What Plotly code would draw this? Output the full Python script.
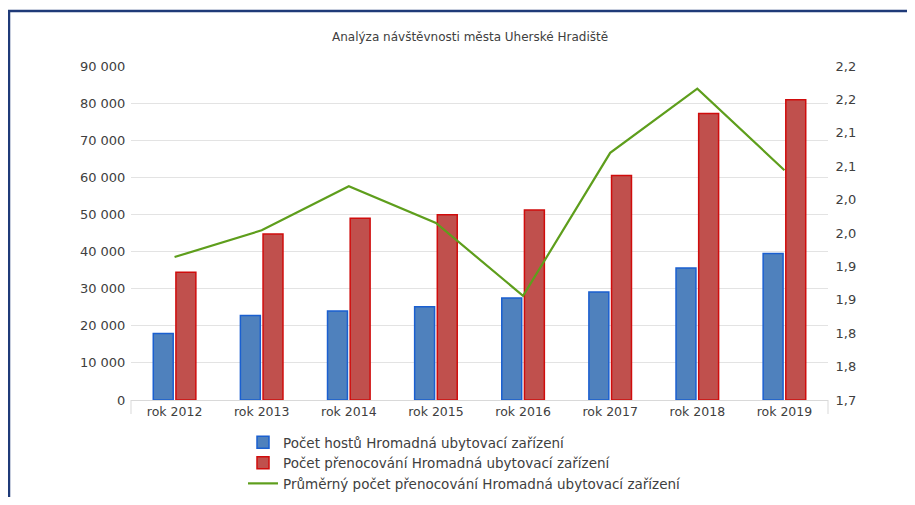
import plotly.graph_objects as go

categories = ["rok 2012", "rok 2013", "rok 2014", "rok 2015", "rok 2016", "rok 2017", "rok 2018", "rok 2019"]
hoste = [17900, 22800, 24000, 25100, 27500, 29100, 35600, 39500]
prenocovani = [34400, 44700, 49000, 49900, 51200, 60500, 77200, 80900]
prumer = [1.914, 1.954, 2.020, 1.965, 1.856, 2.070, 2.166, 2.044]

left_ticks = [0, 10000, 20000, 30000, 40000, 50000, 60000, 70000, 80000, 90000]
right_tickvals = [1.70, 1.75, 1.80, 1.85, 1.90, 1.95, 2.00, 2.05, 2.10, 2.15, 2.20]
right_ticktext = ["1,7", "1,8", "1,8", "1,9", "1,9", "2,0", "2,0", "2,1", "2,1", "2,2", "2,2"]

title_text = "Analýza návštěvnosti města Uherské Hradiště"
name_hoste = "Počet hostů Hromadná ubytovací zařízení"
name_pren = "Počet přenocování Hromadná ubytovací zařízení"
name_prum = "Průměrný počet přenocování Hromadná ubytovací zařízení"

FONT = "DejaVu Sans"

fig = go.Figure()
fig.add_trace(go.Bar(x=categories, y=hoste, name=name_hoste,
                     marker=dict(color="#4F81BD", line=dict(color="#1A5FD0", width=1.5))))
fig.add_trace(go.Bar(x=categories, y=prenocovani, name=name_pren,
                     marker=dict(color="#C0504D", line=dict(color="#D00C0C", width=1.5))))
fig.add_trace(go.Scatter(x=categories, y=prumer, name=name_prum, yaxis="y2", mode="lines",
                         line=dict(color="#5E9E1C", width=2.2)))

# page body has an 8px margin on every side; work in absolute screen pixels
OFF = 8
W, H = 915 - OFF, 505 - 2 * OFF
L, R, T = 131 - OFF, 87, 66 - OFF
B = H - (400 - OFF)
pw, ph = W - L - R, H - T - B

def px(x):
    return (x - OFF - L) / pw

def py(y):
    return (400 - y) / ph

fig.update_layout(
    width=W, height=H,
    margin=dict(l=L, r=R, t=T, b=B, autoexpand=False),
    paper_bgcolor="white", plot_bgcolor="white",
    separators=", ",
    font=dict(family=FONT, size=13, color="#595959"),
    barmode="group", bargap=0.48, bargroupgap=0.12,
    showlegend=True,
    legend=dict(x=px(243), y=py(427), xanchor="left", yanchor="top",
                font=dict(family=FONT, size=13.5, color="#404040"),
                tracegroupgap=0, itemwidth=30, traceorder="normal",
                bgcolor="rgba(0,0,0,0)"),
    xaxis=dict(showgrid=False, showline=True, linecolor="#D9D9D9", linewidth=1,
               ticks="", tickfont=dict(size=12.5, color="#404040"), fixedrange=True),
    yaxis=dict(range=[0, 90000], tickvals=left_ticks, tickformat=",d",
               showgrid=True, gridcolor="#E3E3E3", gridwidth=1, zeroline=False,
               ticks="outside", ticklen=2, tickcolor="rgba(0,0,0,0)",
               tickfont=dict(size=13, color="#404040")),
    yaxis2=dict(range=[1.7, 2.2], overlaying="y", side="right",
                tickvals=right_tickvals, ticktext=right_ticktext,
                showgrid=False, zeroline=False,
                ticks="outside", ticklen=4, tickcolor="rgba(0,0,0,0)",
                tickfont=dict(size=13, color="#404040")),
    annotations=[dict(text=title_text, xref="paper", yref="paper",
                      x=px(470), y=py(37), xanchor="center", yanchor="middle",
                      showarrow=False, font=dict(family=FONT, size=12, color="#404040"))],
    shapes=[
        dict(type="path", xref="paper", yref="paper",
             path=f"M {px(9)} {py(520)} L {px(9)} {py(11)} L {px(930)} {py(11)}",
             line=dict(color="#1F3A78", width=2.5)),
        dict(type="line", xref="paper", yref="paper", x0=0, x1=0, y0=0, y1=py(414),
             line=dict(color="#D9D9D9", width=1)),
        dict(type="line", xref="paper", yref="paper", x0=1, x1=1, y0=0, y1=py(414),
             line=dict(color="#D9D9D9", width=1)),
    ],
)

fig.write_html("out.html")
